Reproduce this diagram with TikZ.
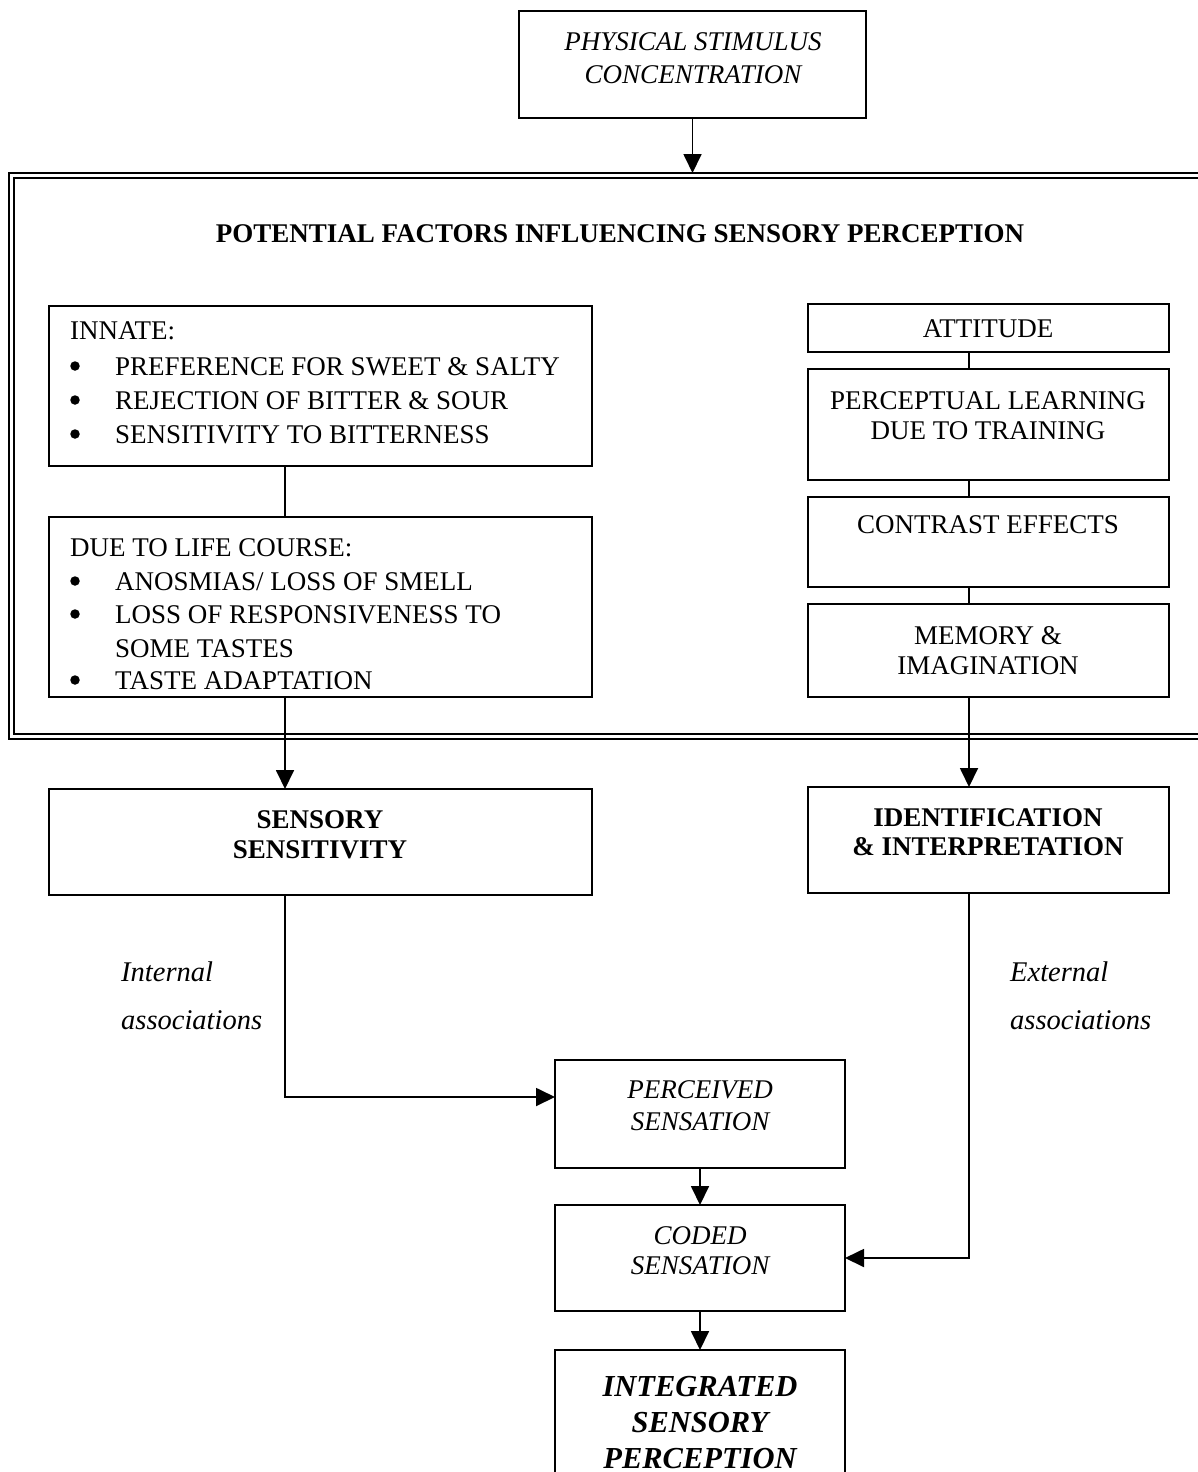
\documentclass[tikz,border=0pt]{standalone}
\usepackage{fontspec}
\setmainfont{Liberation Serif}
\usetikzlibrary{arrows.meta}
\begin{document}
\begin{tikzpicture}[x=1pt,y=-1pt,
  box/.style={draw, line width=1.8pt, inner sep=0pt, outer sep=0pt, anchor=north west},
  txt/.style={inner sep=0pt, anchor=base, font=\fontsize{27}{32}\selectfont},
  ltxt/.style={txt, anchor=base west},
  ittxt/.style={txt, font=\fontsize{27}{32}\selectfont\itshape},
  labtxt/.style={txt, anchor=base west, font=\fontsize{28.5}{34}\selectfont\itshape},
  bftxt/.style={txt, font=\fontsize{27}{32}\selectfont\bfseries},
  bigtxt/.style={txt, font=\fontsize{30.5}{36}\selectfont\bfseries\itshape},
  dot/.style={circle, fill, inner sep=0pt, minimum size=9.5pt},
  link/.style={line width=1.8pt},
  arr/.style={line width=1.8pt, -{Triangle[width=18pt,length=19pt]}}]

\useasboundingbox (0,0) rectangle (1198,1472);
\clip (0,0) rectangle (1198,1472);

% column lines used by the connectors
\coordinate (lcol) at (285,0);
\coordinate (rcol) at (969,0);

% stimulus
\node[box, minimum width=347pt, minimum height=107pt] (stim) at (519,11) {};
\node[ittxt] (stimA) at (693,51) {PHYSICAL STIMULUS};
\node[ittxt] (stimB) at (693,83) {CONCENTRATION};

% frame of the influencing factors (double rule)
\node[box, line width=2.4pt, minimum width=1300pt, minimum height=566pt] (factors) at (9,173) {};
\draw[line width=1.4pt] ([shift={(5,5)}]factors.north west) rectangle ([shift={(-5,-5)}]factors.south east);
\node[bftxt] (title) at (620,242) {POTENTIAL FACTORS INFLUENCING SENSORY PERCEPTION};

% left column of factors
\node[box, minimum width=543pt, minimum height=160pt] (innate) at (49,306) {};
\node[ltxt] (inA) at (70,339) {INNATE:};
\node[dot] (inB1) at (75,366) {};
\node[ltxt] (inB) at (115,375) {PREFERENCE FOR SWEET \& SALTY};
\node[dot] (inC1) at (75,400) {};
\node[ltxt] (inC) at (115,409) {REJECTION OF BITTER \& SOUR};
\node[dot] (inD1) at (75,434) {};
\node[ltxt] (inD) at (115,443) {SENSITIVITY TO BITTERNESS};

\node[box, minimum width=543pt, minimum height=180pt] (life) at (49,517) {};
\node[ltxt] (lfA) at (70,556) {DUE TO LIFE COURSE:};
\node[dot] (lfB1) at (75,581) {};
\node[ltxt] (lfB) at (115,590) {ANOSMIAS/ LOSS OF SMELL};
\node[dot] (lfC1) at (75,614) {};
\node[ltxt] (lfC) at (115,623) {LOSS OF RESPONSIVENESS TO};
\node[ltxt] (lfD) at (115,657) {SOME TASTES};
\node[dot] (lfE1) at (75,680) {};
\node[ltxt] (lfE) at (115,689) {TASTE ADAPTATION};

% right column of factors
\node[box, minimum width=361pt, minimum height=48pt] (attitude) at (808,304) {};
\node[txt] (atA) at (988,337) {ATTITUDE};
\node[box, minimum width=361pt, minimum height=111pt] (learning) at (808,369) {};
\node[txt] (leA) at (988,409) {PERCEPTUAL LEARNING};
\node[txt] (leB) at (988,439) {DUE TO TRAINING};
\node[box, minimum width=361pt, minimum height=90pt] (contrast) at (808,497) {};
\node[txt] (coA) at (988,533) {CONTRAST EFFECTS};
\node[box, minimum width=361pt, minimum height=93pt] (memory) at (808,604) {};
\node[txt] (meA) at (988,644) {MEMORY \&};
\node[txt] (meB) at (988,674) {IMAGINATION};

% outcomes
\node[box, minimum width=543pt, minimum height=106pt] (sensitivity) at (49,789) {};
\node[bftxt] (seA) at (320,828) {SENSORY};
\node[bftxt] (seB) at (320,858) {SENSITIVITY};
\node[box, minimum width=361pt, minimum height=106pt] (identification) at (808,787) {};
\node[bftxt] (idA) at (988,826) {IDENTIFICATION};
\node[bftxt] (idB) at (988,855) {\& INTERPRETATION};

\node[labtxt] (intA) at (121,981) {Internal};
\node[labtxt] (intB) at (121,1029) {associations};
\node[labtxt] (extA) at (1010,981) {External};
\node[labtxt] (extB) at (1010,1029) {associations};

\node[box, minimum width=290pt, minimum height=108pt] (perceived) at (555,1060) {};
\node[ittxt] (peA) at (700,1098) {PERCEIVED};
\node[ittxt] (peB) at (700,1130) {SENSATION};
\node[box, minimum width=290pt, minimum height=106pt] (coded) at (555,1205) {};
\node[ittxt] (cdA) at (700,1244) {CODED};
\node[ittxt] (cdB) at (700,1274) {SENSATION};
\node[box, minimum width=290pt, minimum height=160pt] (integrated) at (555,1350) {};
\node[bigtxt] (isA) at (700,1396) {INTEGRATED};
\node[bigtxt] (isB) at (700,1432) {SENSORY};
\node[bigtxt] (isC) at (700,1468) {PERCEPTION};

% connectors
\draw[arr] (stim.south) -- (stim.south |- factors.north);
\draw[link] (innate.south -| lcol) -- (life.north -| lcol);
\draw[link] (attitude.south -| rcol) -- (learning.north -| rcol);
\draw[link] (learning.south -| rcol) -- (contrast.north -| rcol);
\draw[link] (contrast.south -| rcol) -- (memory.north -| rcol);
\draw[arr] (life.south -| lcol) -- (sensitivity.north -| lcol);
\draw[arr] (memory.south -| rcol) -- (identification.north -| rcol);
\draw[arr] (sensitivity.south -| lcol) |- ([yshift=17pt]perceived.west);
\draw[arr] (identification.south -| rcol) |- (coded.east);
\draw[arr] (perceived.south) -- (coded.north);
\draw[arr] (coded.south) -- (integrated.north);
\end{tikzpicture}
\end{document}
